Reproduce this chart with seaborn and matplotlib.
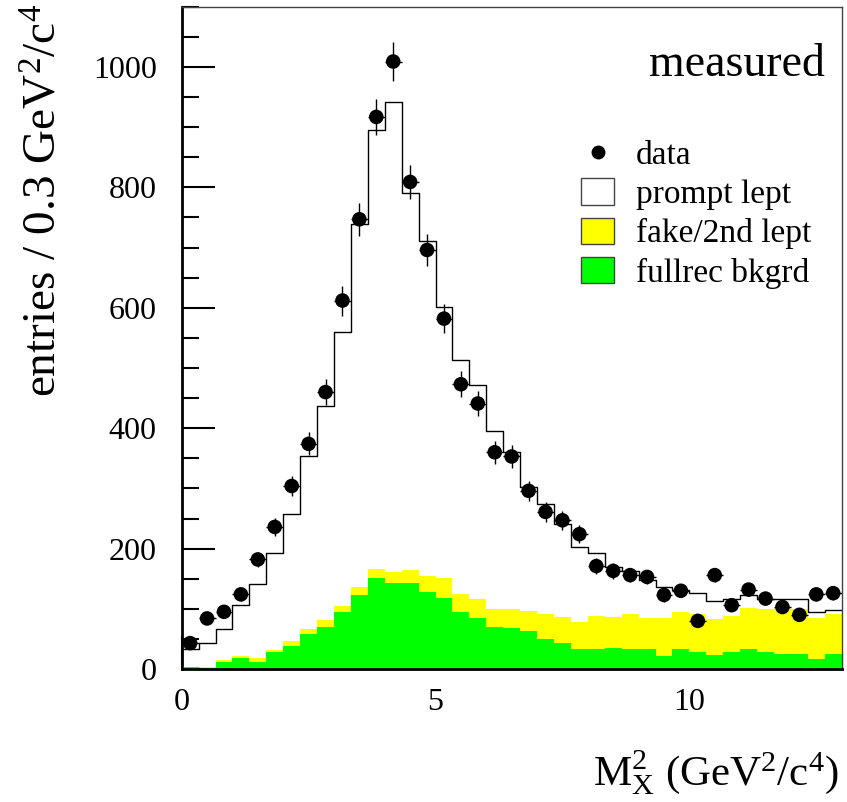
import numpy as np
import pandas as pd
import matplotlib
matplotlib.use('Agg')
import matplotlib.pyplot as plt
from matplotlib.patches import Patch
from matplotlib.lines import Line2D
from matplotlib.ticker import MultipleLocator
import seaborn as sns

# binning: 39 bins from 0 to 13
n_bins = 39
x_min, x_max = 0.0, 13.0

# measured data (entries per bin) and their errors
data_counts = [43, 84, 95, 124, 182, 236, 304, 374, 460, 612, 747, 917, 1009, 809,
               696, 582, 473, 441, 360, 353, 296, 261, 247, 224, 171, 163, 156, 153,
               123, 130, 80, 156, 106, 132, 117, 103, 90, 124, 126]
data_errors = [7, 9, 10, 11, 13, 15, 17, 19, 21, 25, 27, 30, 32, 28, 26, 24, 22, 21,
               19, 19, 17, 16, 16, 15, 13, 13, 12, 12, 11, 11, 9, 12, 10, 11, 11, 10,
               9, 11, 11]

# simulated components (stacked)
prompt_lept = [30, 40, 51, 84, 122, 161, 210, 288, 356, 454, 603, 729, 781, 625, 557,
               450, 388, 356, 295, 260, 205, 183, 155, 124, 104, 84, 72, 64, 52, 36,
               34, 30, 28, 21, 17, 15, 18, 10, 6]
fake_lept = [1, 2, 3, 3, 7, 4, 8, 8, 11, 11, 13, 15, 18, 22, 26, 33, 30, 32, 30, 32,
             34, 41, 42, 45, 55, 51, 58, 50, 62, 62, 63, 60, 60, 69, 71, 77, 74, 68, 67]
fullrec_bkgrd = [3, 2, 12, 19, 12, 28, 39, 58, 70, 94, 123, 151, 143, 143, 128, 118,
                 95, 84, 70, 68, 63, 50, 44, 33, 33, 35, 33, 34, 22, 33, 29, 23, 28,
                 33, 28, 25, 25, 16, 25]

labels = ['prompt lept', 'fake/2nd lept', 'fullrec bkgrd']
colors = {'prompt lept': 'white', 'fake/2nd lept': '#ffff00', 'fullrec bkgrd': '#00ff00'}

edges = np.linspace(x_min, x_max, n_bins + 1)
centers = 0.5 * (edges[:-1] + edges[1:])
half_width = 0.5 * (edges[1] - edges[0])

df = pd.concat([
    pd.DataFrame({'x': centers, 'w': vals, 'component': lab})
    for lab, vals in zip(labels, [prompt_lept, fake_lept, fullrec_bkgrd])
], ignore_index=True)
total = df.groupby('x', as_index=False)['w'].sum()

sns.set_style('ticks', {'text.color': 'black', 'axes.labelcolor': 'black',
                        'xtick.color': 'black', 'ytick.color': 'black',
                        'axes.edgecolor': 'black'})
plt.rcParams['font.family'] = ['Liberation Serif', 'DejaVu Serif']
plt.rcParams['mathtext.fontset'] = 'custom'
plt.rcParams['mathtext.rm'] = 'Liberation Serif'
plt.rcParams['mathtext.it'] = 'Liberation Serif:italic'

fig = plt.figure(figsize=(8.47, 8.02), dpi=100)
ax = fig.add_axes([0.2145, 0.1658, 0.7792, 0.8258])

sns.histplot(data=df, x='x', weights='w', hue='component', hue_order=labels,
             multiple='stack', bins=n_bins, binrange=(x_min, x_max), element='step',
             fill=True, alpha=1, palette=colors, linewidth=0, legend=False, ax=ax)
sns.histplot(data=total, x='x', weights='w', bins=n_bins, binrange=(x_min, x_max),
             element='step', fill=False, color='black', linewidth=1.0, ax=ax)

ax.errorbar(centers, data_counts, yerr=data_errors, xerr=half_width, fmt='none',
            ecolor='black', elinewidth=1.0, capsize=0, zorder=4)
sns.scatterplot(x=centers, y=data_counts, color='black', s=110, edgecolor='none',
                zorder=5, ax=ax)

ax.set_xlim(x_min, x_max)
ax.set_ylim(0, 1100)
ax.xaxis.set_major_locator(MultipleLocator(5))
ax.xaxis.set_minor_locator(MultipleLocator(1))
ax.yaxis.set_major_locator(MultipleLocator(200))
ax.yaxis.set_minor_locator(MultipleLocator(50))
ax.tick_params(axis='both', which='major', direction='in', length=24, width=1.5,
               labelsize=23, top=False, right=False)
ax.tick_params(axis='both', which='minor', direction='in', length=12, width=1.5,
               top=False, right=False)
ax.tick_params(axis='y', which='major', pad=18)
ax.tick_params(axis='x', which='major', pad=14)
for side in ['left', 'bottom']:
    ax.spines[side].set_linewidth(2)
for side in ['top', 'right']:
    ax.spines[side].set_linewidth(1)
    ax.spines[side].set_color('#444444')

ax.set_ylabel('entries / 0.3 GeV$^2$/c$^4$', fontsize=34)
ax.yaxis.set_label_coords(-0.175, 1.005)
ax.yaxis.label.set_horizontalalignment('right')
ax.set_xlabel(r'M$_\mathrm{X}^2$ (GeV$^2$/c$^4$)', fontsize=31)
ax.xaxis.set_label_coords(0.995, -0.12)
ax.xaxis.label.set_horizontalalignment('right')

ax.text(0.975, 0.912, 'measured', transform=ax.transAxes, ha='right', va='center',
        fontsize=33)

handles = [Line2D([], [], marker='o', color='black', linestyle='none', markersize=9),
           Patch(facecolor='white', edgecolor='#444444', linewidth=1),
           Patch(facecolor='#ffff00', edgecolor='#444444', linewidth=1),
           Patch(facecolor='#00ff00', edgecolor='#444444', linewidth=1)]
ax.legend(handles, ['data'] + labels, loc='upper left', bbox_to_anchor=(0.585, 0.82),
          frameon=False, fontsize=24, handlelength=1.0, handleheight=0.85,
          handletextpad=0.65, labelspacing=0.22, borderaxespad=0)

fig.savefig('out.png', dpi=100)
